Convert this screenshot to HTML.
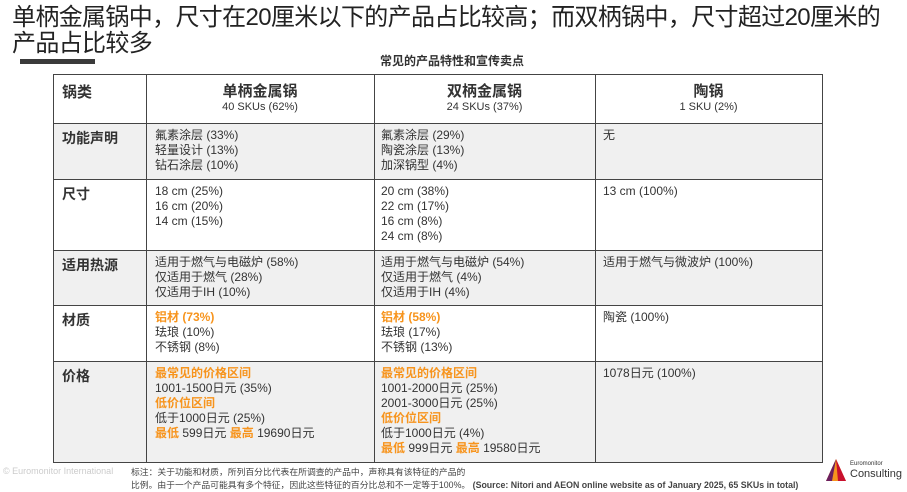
<!DOCTYPE html><html><head><meta charset="utf-8"><style>
body{margin:0;width:907px;height:489px;background:#fff;position:relative;overflow:hidden;font-family:"Liberation Sans","Noto Sans CJK SC",sans-serif;color:#333}
.a{position:absolute;white-space:nowrap}
.t{font-size:24px;color:#222;left:12px;line-height:26px;letter-spacing:-0.65px}
.cell{position:absolute;font-size:12px;line-height:15px;color:#333}
.o{color:#f7941d;font-weight:bold}
.h{font-weight:bold;font-size:14px}
.row{position:absolute;left:53px;width:769px;border-top:1.5px solid #444}
.vl{position:absolute;top:74px;height:389px;border-left:1.5px solid #444}
</style></head><body>
<div class="a t" style="top:5px">单柄金属锅中，尺寸在20厘米以下的产品占比较高；而双柄锅中，尺寸超过20厘米的</div>
<div class="a t" style="top:31px">产品占比较多</div>
<div class="a" style="left:20px;top:59px;width:75px;height:5px;background:#3a3a3a"></div>
<div class="a" style="left:380px;top:52px;font-size:12px;font-weight:bold;color:#333">常见的产品特性和宣传卖点</div>
<div class="a" style="left:53px;top:123px;width:769px;height:56px;background:#f0f0f0"></div>
<div class="a" style="left:53px;top:250px;width:769px;height:55px;background:#f0f0f0"></div>
<div class="a" style="left:53px;top:361px;width:769px;height:102px;background:#f0f0f0"></div>
<div class="row" style="top:74px"></div><div class="row" style="top:123px"></div><div class="row" style="top:179px"></div><div class="row" style="top:250px"></div><div class="row" style="top:305px"></div><div class="row" style="top:361px"></div><div class="row" style="top:462px"></div>
<div class="vl" style="left:53px"></div><div class="vl" style="left:146px"></div><div class="vl" style="left:374px"></div><div class="vl" style="left:595px"></div><div class="vl" style="left:822px"></div>
<div class="a" style="left:62px;top:81px;font-size:15px;font-weight:bold">锅类</div>
<div class="a" style="left:146px;width:228px;top:80px;text-align:center"><div style="font-size:15px;font-weight:bold">单柄金属锅</div><div style="font-size:11px">40 SKUs (62%)</div></div>
<div class="a" style="left:374px;width:221px;top:80px;text-align:center"><div style="font-size:15px;font-weight:bold">双柄金属锅</div><div style="font-size:11px">24 SKUs (37%)</div></div>
<div class="a" style="left:595px;width:227px;top:80px;text-align:center"><div style="font-size:15px;font-weight:bold">陶锅</div><div style="font-size:11px">1 SKU (2%)</div></div>
<div class="a h" style="left:62px;top:128px">功能声明</div>
<div class="a h" style="left:62px;top:184px">尺寸</div>
<div class="a h" style="left:62px;top:255px">适用热源</div>
<div class="a h" style="left:62px;top:310px">材质</div>
<div class="a h" style="left:62px;top:366px">价格</div>
<div class="cell" style="left:155px;top:128px">氟素涂层 (33%)<br>轻量设计 (13%)<br>钻石涂层 (10%)</div>
<div class="cell" style="left:381px;top:128px">氟素涂层 (29%)<br>陶瓷涂层 (13%)<br>加深锅型 (4%)</div>
<div class="cell" style="left:603px;top:128px">无</div>
<div class="cell" style="left:155px;top:184px">18 cm (25%)<br>16 cm (20%)<br>14 cm (15%)</div>
<div class="cell" style="left:381px;top:184px">20 cm (38%)<br>22 cm (17%)<br>16 cm (8%)<br>24 cm (8%)</div>
<div class="cell" style="left:603px;top:184px">13 cm (100%)</div>
<div class="cell" style="left:155px;top:255px">适用于燃气与电磁炉 (58%)<br>仅适用于燃气 (28%)<br>仅适用于IH (10%)</div>
<div class="cell" style="left:381px;top:255px">适用于燃气与电磁炉 (54%)<br>仅适用于燃气 (4%)<br>仅适用于IH (4%)</div>
<div class="cell" style="left:603px;top:255px">适用于燃气与微波炉 (100%)</div>
<div class="cell" style="left:155px;top:310px"><span class="o">铝材 (73%)</span><br>珐琅 (10%)<br>不锈钢 (8%)</div>
<div class="cell" style="left:381px;top:310px"><span class="o">铝材 (58%)</span><br>珐琅 (17%)<br>不锈钢 (13%)</div>
<div class="cell" style="left:603px;top:310px">陶瓷 (100%)</div>
<div class="cell" style="left:155px;top:366px"><span class="o">最常见的价格区间</span><br>1001-1500日元 (35%)<br><span class="o">低价位区间</span><br>低于1000日元 (25%)<br><span class="o">最低</span> 599日元 <span class="o">最高</span> 19690日元</div>
<div class="cell" style="left:381px;top:366px"><span class="o">最常见的价格区间</span><br>1001-2000日元 (25%)<br>2001-3000日元 (25%)<br><span class="o">低价位区间</span><br>低于1000日元 (4%)<br><span class="o">最低</span> 999日元 <span class="o">最高</span> 19580日元</div>
<div class="cell" style="left:603px;top:366px">1078日元 (100%)</div>
<div class="a" style="left:3px;top:466px;font-size:9px;color:#ccc">© Euromonitor International</div>
<div class="a" style="left:131px;top:466px;font-size:8.8px;color:#444;line-height:13px">标注：关于功能和材质，所列百分比代表在所调查的产品中，声称具有该特征的产品的<br>比例。由于一个产品可能具有多个特征，因此这些特征的百分比总和不一定等于100%。 <b>(Source: Nitori and AEON online website as of January 2025, 65 SKUs in total)</b></div>
<svg class="a" style="left:824px;top:458px" width="24" height="24"><polygon points="12,1 2,23 22,23" fill="#f7941d"/><polygon points="12,1 22,23 14,23" fill="#c8102e"/><polygon points="12,1 2,23 8,23" fill="#6b1f5f"/></svg>
<div class="a" style="left:850px;top:461px;font-size:6px;color:#333">Euromonitor</div>
<div class="a" style="left:850px;top:468px;font-size:11px;color:#333">Consulting</div>
</body></html>
